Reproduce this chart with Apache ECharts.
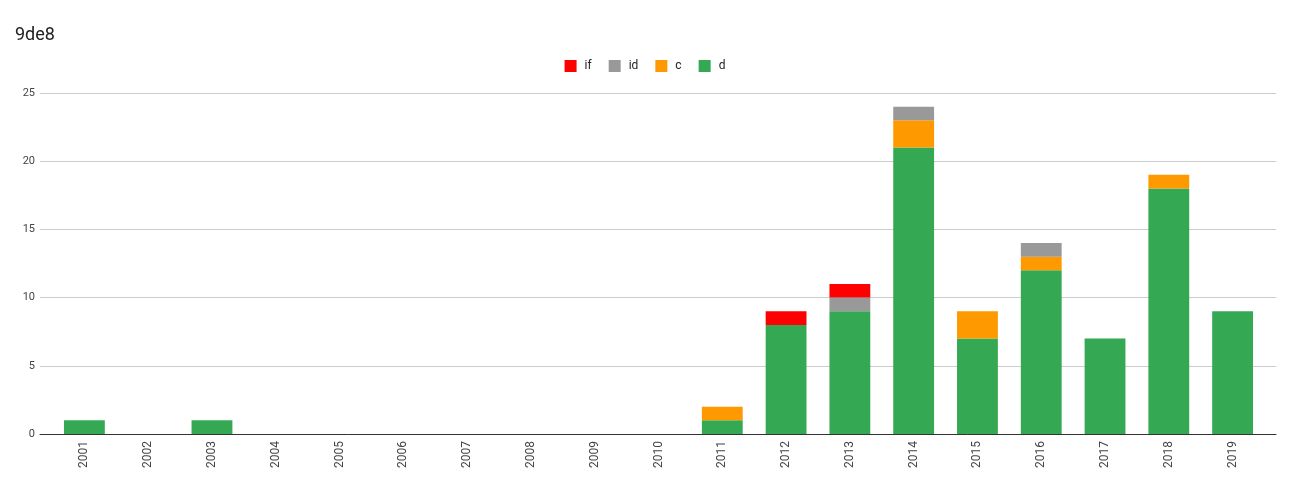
<!DOCTYPE html>
<html>
<head>
<meta charset="utf-8">
<script src="https://cdn.jsdelivr.net/npm/echarts@6/dist/echarts.min.js"></script>
<style>
  html, body { margin: 0; padding: 0; background: #fff; }
  #chart { width: 1290px; height: 483px; }
</style>
</head>
<body>
<div id="chart"></div>
<script>
var years = ['2001', '2002', '2003', '2004', '2005', '2006', '2007', '2008', '2009', '2010',
             '2011', '2012', '2013', '2014', '2015', '2016', '2017', '2018', '2019'];
var dVals  = [1, 0, 1, 0, 0, 0, 0, 0, 0, 0, 1, 8, 9, 21, 7, 12, 7, 18, 9];
var cVals  = [0, 0, 0, 0, 0, 0, 0, 0, 0, 0, 1, 0, 0, 2, 2, 1, 0, 1, 0];
var idVals = [0, 0, 0, 0, 0, 0, 0, 0, 0, 0, 0, 0, 1, 1, 0, 1, 0, 0, 0];
var ifVals = [0, 0, 0, 0, 0, 0, 0, 0, 0, 0, 0, 1, 1, 0, 0, 0, 0, 0, 0];

var myChart;
document.addEventListener("DOMContentLoaded", function() {
    initChart('9de8');
});

function barSeries(name, values, color) {
    return {
        name: name,
        type: 'bar',
        stack: 'total',
        xAxisIndex: 1,
        yAxisIndex: 1,
        barWidth: '64%',
        data: values,
        itemStyle: { color: color }
    };
}

function initChart(name) {
    myChart = echarts.init(document.getElementById('chart'), null, { renderer: 'canvas' });
    var option = {
        animation: false,
        textStyle: { fontFamily: 'Roboto, Arial, sans-serif' },
        title: {
            text: name,
            left: 10,
            top: 21,
            textStyle: { fontSize: 18, fontWeight: 'normal', color: '#222' }
        },
        legend: {
            top: 55,
            left: 'center',
            itemWidth: 12,
            itemHeight: 12,
            itemGap: 17,
            icon: 'rect',
            textStyle: { fontSize: 12, color: '#222', padding: [0, 0, 0, 3] },
            data: ['if', 'id', 'c', 'd']
        },
        // grid 0 holds the full-width gridlines and baseline,
        // grid 1 holds the bars, slightly inset like the original
        grid: [
            { left: 40, right: 14, top: 93, bottom: 49 },
            { left: 52.5, right: 25.5, top: 93, bottom: 49 }
        ],
        xAxis: [{
            type: 'category',
            gridIndex: 0,
            data: years,
            axisTick: { show: false },
            axisLabel: { show: false },
            axisLine: { lineStyle: { color: '#333', width: 1 } }
        }, {
            type: 'category',
            gridIndex: 1,
            data: years,
            axisTick: { show: false },
            axisLine: { show: false },
            axisLabel: { rotate: 90, fontSize: 12, color: '#444', margin: 7 }
        }],
        yAxis: [{
            type: 'value',
            gridIndex: 0,
            min: 0,
            max: 25,
            interval: 5,
            axisLine: { show: false },
            axisTick: { show: false },
            axisLabel: { fontSize: 11, color: '#444', margin: 5 },
            splitLine: { lineStyle: { color: '#cccccc' } }
        }, {
            type: 'value',
            gridIndex: 1,
            min: 0,
            max: 25,
            interval: 5,
            show: false
        }],
        series: [
            barSeries('d', dVals, '#34a853'),
            barSeries('c', cVals, '#ff9900'),
            barSeries('id', idVals, '#999999'),
            barSeries('if', ifVals, '#ff0000')
        ]
    };
    myChart.setOption(option);
}
</script>
</body>
</html>
